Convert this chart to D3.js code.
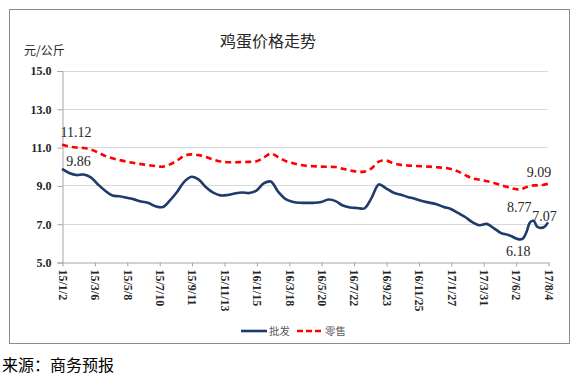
<!DOCTYPE html>
<html>
<head>
  <meta charset="UTF-8">
  <title>鸡蛋价格走势</title>
  <style>
    body { margin: 0; background: #fff; }
    svg { display: block; }
    .serif { font-family: "Liberation Serif", "DejaVu Serif", serif; }
    .cjk { font-family: "Noto Sans CJK SC", sans-serif; }
  </style>
</head>
<body>
<svg></svg>
<script src="https://d3js.org/d3.v7.min.js"></script>
<script>

let width = 582, height = 380;

// week number since 2015-01-02 (weekly data)
const weeks = [0, 2, 4, 6, 8, 10, 12, 14, 16, 18, 20, 22, 24, 26, 28, 30, 32, 34, 36, 38,
  40, 42, 44, 46, 48, 50, 52, 54, 56, 58, 60, 62, 64, 66, 68, 70, 72, 74, 76, 78,
  80, 82, 84, 86, 88, 90, 92, 94, 96, 98, 100, 102, 104, 106, 108, 110, 112, 114, 116, 118,
  120, 122, 124, 125, 126, 127, 128, 129, 130, 131, 132, 133, 134, 135];

// 批发 wholesale
const wholesale = [9.86, 9.65, 9.54, 9.57, 9.42, 9.05, 8.72, 8.47, 8.43, 8.35, 8.27, 8.16, 8.08, 7.91, 7.87, 8.22, 8.67, 9.2, 9.45, 9.3,
  8.9, 8.62, 8.48, 8.5, 8.58, 8.63, 8.6, 8.73, 9.1, 9.2, 8.68, 8.3, 8.15, 8.09, 8.09, 8.09, 8.13, 8.26, 8.18, 7.95,
  7.85, 7.82, 7.8, 8.35, 9.05, 8.85, 8.63, 8.52, 8.4, 8.3, 8.18, 8.1, 8.02, 7.87, 7.77, 7.56, 7.35, 7.08, 6.92, 6.99,
  6.76, 6.51, 6.41, 6.33, 6.24, 6.18, 6.22, 6.55, 7.07, 7.15, 6.84, 6.78, 6.83, 7.07];

// 零售 retail
const retail = [11.12, 11.03, 10.98, 10.95, 10.87, 10.72, 10.54, 10.42, 10.32, 10.24, 10.17, 10.11, 10.06, 10.01, 9.98, 10.1, 10.3, 10.55, 10.62, 10.58,
  10.48, 10.35, 10.25, 10.21, 10.21, 10.22, 10.23, 10.26, 10.45, 10.66, 10.48, 10.28, 10.17, 10.08, 10.02, 10.0, 9.98, 9.97, 9.96, 9.87,
  9.78, 9.72, 9.72, 9.89, 10.24, 10.3, 10.16, 10.08, 10.04, 10.02, 10.0, 9.98, 9.95, 9.92, 9.86, 9.73, 9.54, 9.37, 9.3, 9.22,
  9.13, 9.01, 8.9, 8.85, 8.81, 8.77, 8.83, 8.91, 8.96, 9.0, 9.0, 9.0, 9.04, 9.09];

const xTickLabels = ["15/1/2", "15/3/6", "15/5/8", "15/7/10", "15/9/11", "15/11/13", "16/1/15", "16/3/18",
  "16/5/20", "16/7/22", "16/9/23", "16/11/25", "17/1/27", "17/3/31", "17/6/2", "17/8/4"];
const yTicks = [5, 7, 9, 11, 13, 15];

// labelled points: [series, week, text]
const callouts = [
  ["retail", 0, "11.12"], ["wholesale", 0, "9.86"],
  ["wholesale", 127, "6.18"], ["retail", 127, "8.77"],
  ["wholesale", 135, "7.07"], ["retail", 135, "9.09"]
];

let svg = d3.select("svg")
    .attr("width", width)
    .attr("height", height);

// outer frame
svg.append("rect")
    .attr("x", 9.5).attr("y", 9.5)
    .attr("width", 560).attr("height", 334)
    .attr("fill", "#fff")
    .attr("stroke", "#8c8c8c");

let margin = {left: 62, right: 34, top: 70.5, bottom: 118};

let x = d3.scaleLinear()
    .domain([0, 135])
    .range([margin.left, width - margin.right]);

let y = d3.scaleLinear()
    .domain([5, 15])
    .range([height - margin.bottom, margin.top]);

// gridlines
svg.append("g")
  .selectAll("line")
  .data(yTicks.slice(1))
  .enter()
  .append("line")
    .attr("x1", x(0)).attr("x2", x(135))
    .attr("y1", d => Math.round(y(d)) + 0.5)
    .attr("y2", d => Math.round(y(d)) + 0.5)
    .attr("stroke", "#d9d9d9");

// y axis
let yAxis = svg.append("g")
    .attr("transform", "translate(" + (x(0) + 0.5) + ",0.5)")
    .call(d3.axisLeft(y).tickValues(yTicks).tickFormat(d3.format(".1f")).tickSize(5).tickPadding(6));
yAxis.attr("font-family", null);
yAxis.select(".domain").attr("stroke", "#a6a6a6");
yAxis.selectAll(".tick line").attr("stroke", "#a6a6a6");
yAxis.selectAll("text")
    .attr("class", "serif")
    .attr("font-weight", "bold")
    .attr("font-size", 12)
    .attr("fill", "#262626");

// x axis
let xAxis = svg.append("g")
    .attr("transform", "translate(0.5," + (y(5) + 0.5) + ")")
    .call(d3.axisBottom(x)
        .tickValues(d3.range(0, 136, 9))
        .tickFormat((d, i) => xTickLabels[i])
        .tickSize(4)
        .tickSizeOuter(0));
xAxis.attr("font-family", null);
xAxis.select(".domain").attr("stroke", "#a6a6a6");
xAxis.selectAll(".tick line").attr("stroke", "#a6a6a6");
xAxis.selectAll("text")
    .attr("class", "serif")
    .attr("font-weight", "bold")
    .attr("font-size", 12)
    .attr("fill", "#262626")
    .attr("text-anchor", "start")
    .attr("transform", "rotate(90)")
    .attr("x", 7)
    .attr("y", 0)
    .attr("dy", "0.35em");

let line = d3.line()
    .x((d, i) => x(weeks[i]))
    .y(d => y(d))
    .curve(d3.curveCatmullRom.alpha(0.5));

svg.append("path")
    .datum(wholesale)
    .attr("fill", "none")
    .attr("stroke", "#1f3b6b")
    .attr("stroke-width", 2.6)
    .attr("stroke-linejoin", "round")
    .attr("d", line);

svg.append("path")
    .datum(retail)
    .attr("fill", "none")
    .attr("stroke", "#ff0000")
    .attr("stroke-width", 2.6)
    .attr("stroke-dasharray", "6,4")
    .attr("d", line);

// value labels
let series = {wholesale: wholesale, retail: retail};
let offsets = {
  "11.12": [14, -8], "9.86": [16.5, -3],
  "6.18": [-1, 16.5], "8.77": [0, 22],
  "7.07": [-3.5, -1], "9.09": [-9, -6.5]
};
svg.append("g")
  .selectAll("text")
  .data(callouts)
  .enter()
  .append("text")
    .attr("class", "serif")
    .attr("x", d => x(d[1]) + offsets[d[2]][0])
    .attr("y", d => y(series[d[0]][weeks.indexOf(d[1])]) + offsets[d[2]][1])
    .attr("text-anchor", "middle")
    .attr("font-size", 14)
    .attr("fill", "#262626")
    .text(d => d[2]);

// title and unit
svg.append("text")
    .attr("class", "cjk")
    .attr("x", 268).attr("y", 47)
    .attr("text-anchor", "middle")
    .attr("font-size", 16)
    .attr("fill", "#262626")
    .text("鸡蛋价格走势");

svg.append("text")
    .attr("class", "cjk")
    .attr("x", 24).attr("y", 55)
    .attr("font-size", 12)
    .attr("fill", "#262626")
    .text("元/公斤");

// legend
let legendData = [["批发", "#1f3b6b", null, 241], ["零售", "#ff0000", "6,3", 297]];
let legend = svg.selectAll("g.legend")
    .data(legendData)
    .enter().append("g")
    .attr("class", "legend");

legend.append("line")
    .attr("x1", d => d[3]).attr("x2", d => d[3] + 26)
    .attr("y1", 331).attr("y2", 331)
    .attr("stroke", d => d[1])
    .attr("stroke-width", 2.6)
    .attr("stroke-dasharray", d => d[2]);

legend.append("text")
    .attr("class", "cjk")
    .attr("x", d => d[3] + 28)
    .attr("y", 335)
    .attr("font-size", 10.5)
    .attr("fill", "#595959")
    .text(d => d[0]);

// source
svg.append("text")
    .attr("class", "cjk")
    .attr("x", 2).attr("y", 371)
    .attr("font-size", 16)
    .attr("fill", "#000")
    .text("来源：商务预报");

</script>
</body>
</html>
